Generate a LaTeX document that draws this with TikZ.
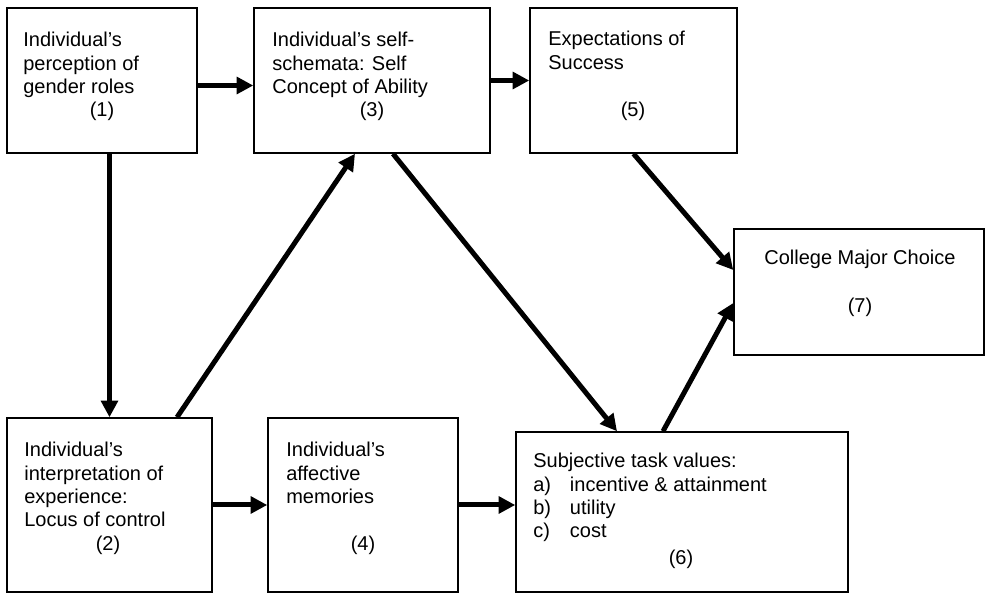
\documentclass[tikz,border=0pt]{standalone}
\usepackage{fontspec}
\setmainfont{Liberation Sans}
\usepackage{tikz}
\usetikzlibrary{calc,positioning,arrows.meta}

\tikzset{
    box/.style={draw, line width=0.9pt, inner sep=0pt},
    txt/.style={anchor=north west, inner sep=0pt, align=left, font=\fontsize{12pt}{14pt}\selectfont},
    num/.style={anchor=base, inner sep=0pt, font=\fontsize{12pt}{14pt}\selectfont},
    link/.style={->, line width=3pt}
}

\begin{document}
\begin{tikzpicture}[>={Triangle[length=10pt,width=10pt]}, x=0.6pt, y=-0.6pt]
                \useasboundingbox (0,0) rectangle (985,593);
                \node[box, minimum width=114pt, minimum height=87pt] (b1) at (102,80.5) {};
                \node[txt] (t1) at (23,32) {Individual's\\perception of\\gender roles};
                \node[num] (n1) at (102,117) {(1)};
                \node[box, minimum width=141.6pt, minimum height=87pt] (b3) at (372,80.5) {};
                \node[txt] (t3) at (272,32) {Individual's self-\\schemata: Self\\Concept of Ability};
                \node[num] (n3) at (372,117) {(3)};
                \node[box, minimum width=124.2pt, minimum height=87pt] (b5) at (633.5,80.5) {};
                \node[txt] (t5) at (548,31) {Expectations of\\Success};
                \node[num] (n5) at (633,117) {(5)};
                \node[box, minimum width=150pt, minimum height=75.6pt] (b7) at (859,292) {};
                \node[txt] (t7) at (764,250) {College Major Choice};
                \node[num] (n7) at (860,313) {(7)};
                \node[box, minimum width=123pt, minimum height=104.4pt] (b2) at (109.5,505) {};
                \node[txt] (t2) at (24,442) {Individual's\\interpretation of\\experience:\\Locus of control};
                \node[num] (n2) at (108,551) {(2)};
                \node[box, minimum width=114pt, minimum height=104.4pt] (b4) at (363,505) {};
                \node[txt] (t4) at (286,442) {Individual's\\affective\\memories};
                \node[num] (n4) at (363,551) {(4)};
                \node[box, minimum width=199.2pt, minimum height=96pt] (b6) at (682,512) {};
                \node[txt] (t6) at (533,453) {Subjective task values:\\
                    \makebox[22pt][l]{a)}incentive \& attainment\\
                    \makebox[22pt][l]{b)}utility\\
                    \makebox[22pt][l]{c)}cost};
                \node[num] (n6) at (681,565) {(6)};
                \draw[link] ([yshift=-3pt]b1.east) -- ([yshift=-3pt]b3.west);
                \draw[link] (b3.east) -- (b5.west);
                \draw[link] (b1.south -| b2.north) -- (b2.north);
                \draw[link] ([xshift=40.5pt]b2.north) -- ([xshift=-10.2pt]b3.south);
                \draw[link] ([xshift=12.6pt]b3.south) -- ([xshift=-39pt]b6.north);
                \draw[link] (b2.east) -- (b4.west);
                \draw[link] (b4.east) -- (b4.east -| b6.west);
                \draw[link] (b5.south) -- ([yshift=13.2pt]b7.west);
                \draw[link] ([xshift=-11.4pt]b6.north) -- ([yshift=-6.6pt]b7.west);
            \end{tikzpicture}
\end{document}
